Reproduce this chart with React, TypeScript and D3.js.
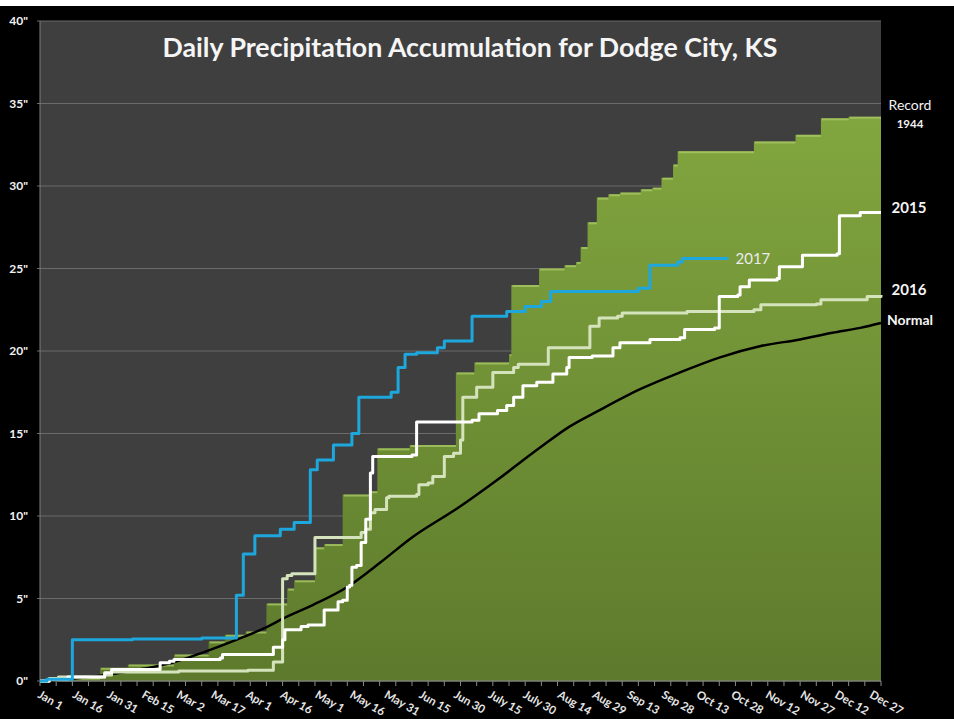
import React from "react";
import * as d3 from "d3";

const xLabels = [
  "Jan 1", "Jan 16", "Jan 31", "Feb 15", "Mar 2", "Mar 17", "Apr 1", "Apr 16",
  "May 1", "May 16", "May 31", "Jun 15", "Jun 30", "July 15", "July 30", "Aug 14",
  "Aug 29", "Sep 13", "Sep 28", "Oct 13", "Oct 28", "Nov 12", "Nov 27", "Dec 12", "Dec 27",
];
const yTicks = [0, 5, 10, 15, 20, 25, 30, 35, 40];

// [day of year (0 = Jan 1), cumulative inches]
const record1944: [number, number][] = [
  [0, 0], [4, 0.1], [14, 0.2], [26, 0.8], [38, 1.0], [58, 1.6], [73, 2.4], [80, 2.8],
  [89, 3.0], [98, 4.7], [107, 5.6], [110, 6.1], [119, 8.1], [123, 8.3], [131, 11.3],
  [143, 11.5], [146, 14.1], [160, 14.3], [180, 18.7], [188, 19.3], [203, 19.8],
  [204, 24.0], [216, 25.0], [227, 25.2], [232, 25.4], [234, 26.3], [237, 27.8],
  [241, 29.3], [246, 29.5], [251, 29.6], [260, 29.8], [265, 29.9], [269, 30.5],
  [274, 31.3], [276, 32.1], [309, 32.7], [327, 33.1], [338, 34.1], [350, 34.2], [364, 34.2],
];

const y2017: [number, number][] = [
  [0, 0], [3, 0.1], [14, 2.5], [40, 2.55], [70, 2.6], [85, 5.2], [88, 7.7], [93, 8.8],
  [104, 9.2], [110, 9.6], [117, 12.8], [120, 13.4], [127, 14.3], [135, 15.0], [138, 17.2],
  [152, 17.5], [155, 19.0], [158, 19.8], [163, 19.9], [172, 20.2], [175, 20.6], [187, 22.1],
  [202, 22.4], [210, 22.7], [217, 23.0], [221, 23.6], [259, 23.8], [264, 25.2], [276, 25.4],
  [278, 25.6], [298, 25.6],
];

const y2015: [number, number][] = [
  [0, 0], [4, 0.1], [12, 0.25], [28, 0.5], [31, 0.7], [52, 1.1], [56, 1.2], [58, 1.3],
  [78, 1.4], [79, 1.6], [101, 2.05], [105, 2.5], [106, 3.1], [113, 3.3], [116, 3.4],
  [123, 4.3], [129, 4.8], [131, 4.9], [133, 5.7], [134, 5.8], [135, 6.9], [137, 7.0],
  [139, 8.4], [141, 9.8], [143, 12.6], [144, 13.6], [161, 13.7], [163, 15.7], [187, 15.8],
  [190, 16.2], [198, 16.4], [202, 16.7], [205, 17.2], [209, 17.9], [215, 18.1], [222, 18.6],
  [228, 19.0], [229, 19.6], [239, 19.7], [248, 20.2], [251, 20.5], [264, 20.7], [277, 20.8],
  [279, 21.3], [292, 21.4], [294, 23.3], [302, 23.4], [303, 23.9], [307, 24.3], [319, 24.4],
  [320, 25.1], [330, 25.8], [345, 25.9], [346, 28.2], [355, 28.4], [364, 28.4],
];

const y2016: [number, number][] = [
  [0, 0], [4, 0.15], [8, 0.25], [28, 0.36], [31, 0.55], [60, 0.6], [90, 0.65], [101, 1.15],
  [105, 6.2], [107, 6.4], [109, 6.5], [119, 8.7], [139, 9.0], [141, 9.2], [143, 10.2],
  [145, 10.4], [150, 11.1], [151, 11.2], [163, 11.3], [164, 11.9], [168, 12.0], [170, 12.4],
  [175, 13.6], [179, 13.8], [182, 14.6], [183, 17.2], [189, 17.8], [196, 18.7], [205, 19.0],
  [207, 19.2], [219, 19.2], [220, 20.2], [235, 20.2], [238, 21.5], [242, 22.0], [250, 22.1],
  [252, 22.3], [280, 22.4], [309, 22.5], [312, 22.8], [336, 22.85], [338, 23.1], [358, 23.3],
  [364, 23.4],
];

const normal: [number, number][] = [
  [0, 0], [15, 0.15], [30, 0.4], [43, 0.7], [57, 1.1], [71, 1.75], [86, 2.55], [100, 3.4],
  [104, 3.7], [118, 4.6], [133, 5.7], [147, 7.15], [161, 8.7], [181, 10.5], [198, 12.2],
  [216, 14.1], [229, 15.4], [242, 16.4], [260, 17.7], [277, 18.7], [294, 19.6], [312, 20.3],
  [329, 20.7], [343, 21.1], [355, 21.4], [364, 21.7],
];

const W = 954;
const H = 719;
const FONT = "Lato, 'Open Sans', sans-serif";

export default function App() {
  const x = d3.scaleLinear().domain([0, 364]).range([40, 881]);
  const y = d3.scaleLinear().domain([0, 40]).range([681, 21]);

  const step = d3
    .line<[number, number]>()
    .x((d) => x(d[0]))
    .y((d) => y(d[1]))
    .curve(d3.curveStepAfter);
  const smooth = d3
    .line<[number, number]>()
    .x((d) => x(d[0]))
    .y((d) => y(d[1]))
    .curve(d3.curveMonotoneX);
  const area = d3
    .area<[number, number]>()
    .x((d) => x(d[0]))
    .y0(y(0))
    .y1((d) => y(d[1]))
    .curve(d3.curveStepAfter);

  const tickDays = d3.range(0, 365, 7);

  // horizontal top edges of the record steps (light bevel)
  const tops = record1944.slice(0, -1).map((d, i) => [d, record1944[i + 1]] as const);

  return (
    <svg
      width={W}
      height={H}
      style={{ position: "absolute", left: 0, top: 0 }}
      fontFamily={FONT}
    >
      <defs>
        <linearGradient id="grn" gradientUnits="userSpaceOnUse" x1="0" x2="0" y1={y(34.2)} y2={y(0)}>
          <stop offset="0" stopColor="#82a63f" />
          <stop offset="1" stopColor="#5d7a2c" />
        </linearGradient>
      </defs>
      <rect x={0} y={0} width={W} height={H} fill="#000" />
      <rect x={0} y={0} width={W} height={6} fill="#fff" />
      <rect x={x(0)} y={y(40)} width={x(364) - x(0)} height={y(0) - y(40)} fill="#3f3f3f" />

      {yTicks.map((t) => (
        <g key={t}>
          <line x1={x(0) - 3} x2={x(364)} y1={y(t)} y2={y(t)} stroke="#6b6b6b" strokeWidth={1} />
          <text
            x={28}
            y={y(t)}
            dy="0.35em"
            textAnchor="end"
            fill="#f2f2f2"
            fontSize={12}
            fontWeight="bold"
          >
            {t}"
          </text>
        </g>
      ))}

      <path d={area(record1944) || ""} fill="url(#grn)" />
      {tops.map(([a, b], i) => (
        <line
          key={i}
          x1={x(a[0]) + 1}
          x2={x(b[0])}
          y1={y(a[1]) + 1}
          y2={y(a[1]) + 1}
          stroke="#a8c765"
          strokeWidth={2}
          strokeOpacity={0.8}
        />
      ))}

      <line x1={x(0)} x2={x(0)} y1={y(40)} y2={y(0)} stroke="#7f7f7f" />
      <line x1={x(0)} x2={x(364)} y1={y(0)} y2={y(0)} stroke="#8a8a8a" />
      {tickDays.map((d) => (
        <line key={d} x1={x(d)} x2={x(d)} y1={y(0)} y2={y(0) + 5} stroke="#8a8a8a" />
      ))}

      <path d={smooth(normal) || ""} fill="none" stroke="#000" strokeWidth={2.5} />
      <path d={step(y2016) || ""} fill="none" stroke="#d5e3bd" strokeWidth={3} strokeLinejoin="round" />
      <path d={step(y2015) || ""} fill="none" stroke="#ffffff" strokeWidth={3} strokeLinejoin="round" />
      <path d={step(y2017) || ""} fill="none" stroke="#1ea7dd" strokeWidth={3} strokeLinejoin="round" />

      {xLabels.map((lab, i) => (
        <text
          key={lab}
          transform={`translate(${x(i * 15) - 3},${697}) rotate(30)`}
          fill="#e6e6e6"
          fontSize={11.5}
          fontWeight="bold"
        >
          {lab}
        </text>
      ))}

      <text
        x={470}
        y={57}
        textAnchor="middle"
        fill="#f5f5f5"
        fontSize={26}
        fontWeight="bold"
        textLength={615}
        lengthAdjust="spacingAndGlyphs"
      >
        Daily Precipitation Accumulation for Dodge City, KS
      </text>

      <text x={x(298) + 7} y={y(25.6)} dy="0.35em" fill="#ececec" fontSize={15}>
        2017
      </text>

      <text x={910} y={105} dy="0.35em" textAnchor="middle" fill="#f2f2f2" fontSize={14}>
        Record
      </text>
      <text x={910} y={124} dy="0.35em" textAnchor="middle" fill="#f2f2f2" fontSize={11.5} fontWeight="bold">
        1944
      </text>
      <text x={909} y={208} dy="0.35em" textAnchor="middle" fill="#f5f5f5" fontSize={15} fontWeight="bold">
        2015
      </text>
      <text x={909} y={290} dy="0.35em" textAnchor="middle" fill="#f5f5f5" fontSize={15} fontWeight="bold">
        2016
      </text>
      <text x={910} y={320} dy="0.35em" textAnchor="middle" fill="#f5f5f5" fontSize={14} fontWeight="bold">
        Normal
      </text>
    </svg>
  );
}
